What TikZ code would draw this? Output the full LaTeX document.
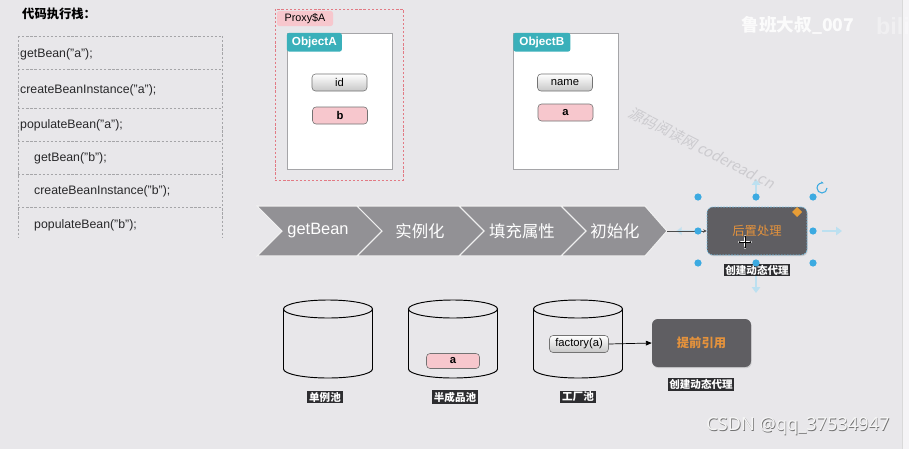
\documentclass[tikz,border=0pt]{standalone}
\usepackage{fontspec}
\setmainfont{Liberation Sans}
\newfontfamily\cjk{Noto Sans CJK SC}
\newfontfamily\cjkslant[FakeSlant=0.2]{Noto Sans CJK SC}
\newfontfamily\wmfont{Noto Sans}
\usetikzlibrary{arrows.meta,shadows}

\definecolor{bgcol}{RGB}{232,231,234}
\definecolor{stackgray}{RGB}{165,165,168}
\definecolor{codetext}{RGB}{40,40,42}
\definecolor{proxyred}{RGB}{226,122,132}
\definecolor{refpink}{RGB}{247,199,205}
\definecolor{tabteal}{RGB}{58,176,186}
\definecolor{chevgray}{RGB}{146,145,149}
\definecolor{darkbox}{RGB}{95,94,98}
\definecolor{boxorange}{RGB}{228,146,60}
\definecolor{handleblue}{RGB}{60,170,225}
\definecolor{paleblue}{RGB}{188,224,240}
\definecolor{labelbg}{RGB}{45,45,48}
\definecolor{wmgray}{RGB}{204,203,207}

\begin{document}
\begin{tikzpicture}[
    x=0.03cm, y=-0.03cm,
    stackline/.style={draw=stackgray, line width=0.5pt, dash pattern=on 2pt off 1.5pt},
    code/.style={
        anchor=west, inner sep=0pt, text=codetext,
        font=\fontsize{10.5}{12}\selectfont
    },
    objbox/.style={
        rectangle, draw=stackgray, fill=white, line width=0.6pt,
        minimum width=3.15cm, minimum height=4.08cm
    },
    objtab/.style={
        rectangle, rounded corners=2pt, fill=tabteal, text=white,
        font=\bfseries\fontsize{10}{12}\selectfont,
        minimum height=0.48cm, inner xsep=3pt, anchor=north west
    },
    field/.style={
        rectangle, rounded corners=3pt, draw=gray!90!black, line width=0.5pt,
        top color=white, bottom color=black!22,
        minimum width=1.65cm, minimum height=0.51cm, inner sep=0pt,
        font=\fontsize{9.6}{11}\selectfont
    },
    reffield/.style={
        field, top color=refpink, bottom color=refpink,
        font=\bfseries\fontsize{9.6}{11}\selectfont
    },
    stagetext/.style={text=white, font=\fontsize{14}{16}\selectfont},
    stageseg/.style={fill=chevgray, draw=white!88!gray, line width=0.9pt, line join=miter},
    darkbox/.style={
        rectangle, rounded corners=5pt, fill=darkbox, text=boxorange,
        minimum width=3cm, minimum height=1.44cm,
        font=\cjk\fontsize{10.5}{12}\selectfont,
        drop shadow={opacity=0.25, shadow xshift=0.6pt, shadow yshift=-1pt}
    },
    tag/.style={
        fill=labelbg, text=white, inner xsep=1.5pt, inner ysep=1.2pt,
        font=\cjk\bfseries\fontsize{9}{10}\selectfont
    },
    pool/.style={draw=black, line width=0.8pt},
    handle/.style={fill=handleblue},
    hint/.style={draw=paleblue, line width=2pt, -{Triangle[length=5pt,width=7pt]}},
    link/.style={draw=black!70, line width=0.8pt, -{Stealth[length=3pt,width=3pt]}},
    ptr/.style={draw=black, line width=0.6pt, -{Triangle[length=5pt,width=4pt]}}
]
\useasboundingbox (0,0) rectangle (909,449);
\fill[bgcol] (0,0) rectangle (909,449);
\fill[white!55!bgcol] (902,0) rectangle (909,449);
\draw[black!15, line width=0.5pt] (902,0) -- (902,449);

% --- Code stack (left) ---
\node[anchor=west, inner sep=0pt, font=\cjk\bfseries\fontsize{10.5}{12}\selectfont] (stackTitle) at (22,14) {代码执行栈：};

\draw[stackline] (18,36) -- (18,237);
\draw[stackline] (222,36) -- (222,237);
\foreach \y in {36,69,108,141,174,207}
    \draw[stackline] (18,\y) -- (222,\y);

\node[code] (callA)     at (20,54)  {getBean("a");};
\node[code] (createA)   at (20,90)  {createBeanInstance("a");};
\node[code] (populateA) at (20,125) {populateBean("a");};
\node[code] (callB)     at (34,158) {getBean("b");};
\node[code] (createB)   at (34,191) {createBeanInstance("b");};
\node[code] (populateB) at (34,225) {populateBean("b");};

% --- Objects ---
\node[draw=proxyred, line width=0.7pt, dash pattern=on 2pt off 1.5pt,
      minimum width=3.84cm, minimum height=5.13cm] (proxyA) at (339,94.5) {};
\node[fill=refpink, rounded corners=2pt, minimum width=1.68cm, minimum height=0.45cm,
      inner sep=0pt, font=\fontsize{9.2}{11}\selectfont] (proxyTag) at (305,18.5) {Proxy\$A};

\node[objbox] (objA) at (339.5,101) {};
\node[objtab, minimum width=1.65cm] (tabA) at (objA.north west) {ObjectA};
\node[field]    (fieldId) at (339.5,82.5) {id};
\node[reffield] (fieldB)  at (340,115.5)  {b};

\node[objbox] (objB) at (566,101) {};
\node[objtab, minimum width=1.71cm] (tabB) at (objB.north west) {ObjectB};
\node[field]    (fieldName) at (565,82.5)   {name};
\node[reffield] (fieldA)    at (565.5,112.5) {a};

% --- Lifecycle stages ---
\path[stageseg] (257,206) -- (357,206) -- (382,231) -- (357,256) -- (257,256) -- (282,231) -- cycle;
\path[stageseg] (357,206) -- (459,206) -- (484,231) -- (459,256) -- (357,256) -- (382,231) -- cycle;
\path[stageseg] (459,206) -- (561,206) -- (586,231) -- (561,256) -- (459,256) -- (484,231) -- cycle;
\path[stageseg] (561,206) -- (645,206) -- (667,231) -- (645,256) -- (561,256) -- (586,231) -- cycle;

\node[stagetext] (stGet)  at (318,231) {getBean};
\node[stagetext, font=\cjk\fontsize{14}{16}\selectfont] (stInst) at (420,231) {实例化};
\node[stagetext, font=\cjk\fontsize{14}{16}\selectfont] (stFill) at (522,231) {填充属性};
\node[stagetext, font=\cjk\fontsize{14}{16}\selectfont] (stInit) at (615,231) {初始化};
\coordinate (chevTip) at (667,231);

% --- Post processing (selected) ---
\draw[hint, draw opacity=0.6] (697,231) -- (676,231);
\draw[hint] (756,194) -- (756,179);
\draw[hint] (756,272) -- (756,293);
\draw[hint] (822,231) -- (842,231);

\node[darkbox, draw=handleblue!70, line width=0.5pt, dash pattern=on 1.5pt off 1pt] (post) at (757,231) {后置处理};
\draw[link] (chevTip) -- (post.west);
\node[tag] (postTag) at (757,270) {创建动态代理};

\foreach \p in {(698,197),(756,197),(813,197),(698,231),(813,231),(698,263),(756,263),(813,263)}
    \fill[handle] \p circle[radius=3.6];
\draw[handleblue, line width=0.9pt, -{Stealth[length=2.5pt]}] (827,188) arc[start angle=0, end angle=290, radius=5];
\fill[boxorange!90!yellow] (797,207) -- (802,212) -- (797,217) -- (792,212) -- cycle;
\draw[white, line width=2pt] (738,242) -- (752,242) (745,235) -- (745,249);
\draw[black, line width=0.7pt, {Stealth[length=2pt]}-{Stealth[length=2pt]}] (738,242) -- (752,242);
\draw[black, line width=0.7pt, {Stealth[length=2pt]}-{Stealth[length=2pt]}] (745,235) -- (745,249);

% --- Pools ---
\foreach \cx in {328,453,578} {
    \draw[pool] (\cx,309) ellipse [x radius=44.5, y radius=9];
    \draw[pool] (\cx-44.5,309) -- (\cx-44.5,369)
        arc[start angle=180, end angle=0, x radius=44.5, y radius=9] -- (\cx+44.5,309);
}
\node[tag] (singletonTag) at (325,397) {单例池};
\node[tag] (earlyTag)     at (455,397) {半成品池};
\node[tag] (factoryTag)   at (578,397) {工厂池};

\node[reffield, minimum width=1.59cm, minimum height=0.45cm] (earlyA) at (453,361) {a};
\node[field, minimum width=1.77cm] (factoryA) at (579,344) {factory(a)};

\node[darkbox, minimum width=2.97cm, font=\cjk\bfseries\fontsize{10.5}{12}\selectfont] (earlyRef) at (701.5,343) {提前引用};
\draw[ptr] (factoryA.east) -- (earlyRef.west);
\node[tag] (earlyRefTag) at (701,384) {创建动态代理};

% --- Watermarks ---
\node[text=white, opacity=0.85, font=\cjk\bfseries\fontsize{15}{17}\selectfont] (wmAuthor) at (798,25) {鲁班大叔\_007};
\node[text=white, opacity=0.35, font=\bfseries\fontsize{20}{20}\selectfont] (wmBili) at (893,26) {bili};
\node[text=wmgray, rotate=-27, font=\cjkslant\fontsize{12.5}{14}\selectfont] (wmSite) at (702,148) {源码阅读网 coderead.cn};
\node[text=black!55, font=\wmfont\fontsize{15.5}{17}\selectfont] (wmCsdnShadow) at (798.6,426.6) {CSDN @qq\_37534947};
\node[text=white!96!black, font=\wmfont\fontsize{15.5}{17}\selectfont] (wmCsdn) at (798,426) {CSDN @qq\_37534947};

\end{tikzpicture}
\end{document}
